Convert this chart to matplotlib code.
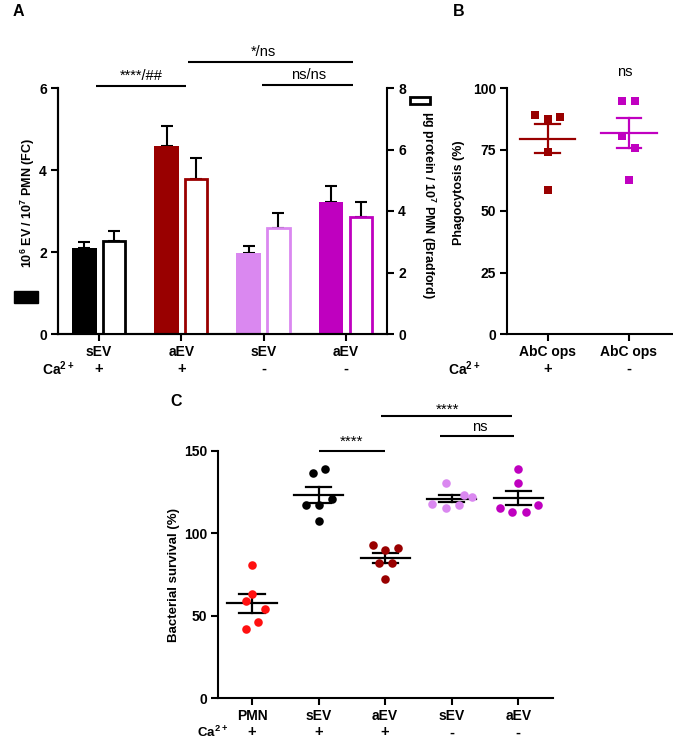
import numpy as np
import matplotlib
matplotlib.use("Agg")
import matplotlib.pyplot as plt
from matplotlib.patches import Rectangle

plt.rcParams['font.family'] = ['Liberation Sans', 'DejaVu Sans']
plt.rcParams['font.weight'] = 'bold'
plt.rcParams['mathtext.default'] = 'regular'
plt.rcParams['axes.linewidth'] = 1.5

# ---------------- data ----------------
groups_A = ['sEV', 'aEV', 'sEV', 'aEV']
ca_A = ['+', '+', '-', '-']
ev_fc_mean = [2.10, 4.59, 1.98, 3.22]
ev_fc_sem = [0.14, 0.49, 0.16, 0.39]
protein_mean = [3.03, 5.05, 3.44, 3.79]
protein_sem = [0.33, 0.66, 0.48, 0.51]
colors_A = ['#000000', '#990000', '#DA88F0', '#BF00BF']

groups_B = ['AbC ops', 'AbC ops']
ca_B = ['+', '-']
phago_plus = [89.2, 87.4, 88.2, 73.8, 58.4]
phago_minus = [94.7, 94.7, 80.4, 75.5, 62.7]
jitter_B = [[-0.16, 0.0, 0.15, 0.0, 0.0], [-0.09, 0.07, -0.08, 0.08, 0.0]]
colors_B = ['#990000', '#C000C0']

groups_C = ['PMN', 'sEV', 'aEV', 'sEV', 'aEV']
ca_C = ['+', '+', '+', '-', '-']
surv_pmn = [80.9, 63.3, 59.2, 54.0, 46.1, 42.0]
surv_sev_plus = [136.5, 138.9, 121.1, 117.3, 117.3, 107.7]
surv_aev_plus = [93.0, 90.0, 91.0, 81.9, 81.9, 72.2]
surv_sev_minus = [130.8, 123.1, 122.3, 117.9, 117.3, 115.2]
surv_aev_minus = [138.9, 130.4, 115.2, 113.2, 113.2, 117.3]
jitter_C = [[0, 0, -0.09, 0.19, 0.09, -0.09],
            [-0.09, 0.10, 0.20, -0.19, 0.01, 0.01],
            [-0.19, 0, 0.20, -0.09, 0.10, 0],
            [-0.09, 0.19, 0.30, -0.29, 0.11, -0.09],
            [0, 0, -0.28, -0.09, 0.11, 0.30]]
colors_C = ['#FF1010', '#000000', '#990000', '#DA88F0', '#BF00BF']

W, H = 673, 742
fig = plt.figure(figsize=(W / 100, H / 100), dpi=100)


def axrect(l, t, r, b):
    return [l / W, 1 - b / H, (r - l) / W, (b - t) / H]


def style(ax, right=False):
    ax.spines['top'].set_visible(False)
    if not right:
        ax.spines['right'].set_visible(False)
    ax.tick_params(direction='out', length=5, width=1.5, labelsize=10, pad=3)
    for lab in ax.get_xticklabels() + ax.get_yticklabels():
        lab.set_fontweight('bold')


# ---------------- Panel A ----------------
axA = fig.add_axes(axrect(58, 88, 387, 334))
axA2 = axA.twinx()
x = np.arange(len(groups_A))
bw = 0.30
off = 0.18
axA.bar(x - off, ev_fc_mean, bw, color=colors_A, edgecolor=colors_A, linewidth=0, zorder=2)
axA.errorbar(x - off, ev_fc_mean, yerr=[np.zeros(4), ev_fc_sem], fmt='none',
             ecolor='black', elinewidth=1.5, capsize=4, capthick=1.5, zorder=1)
axA2.bar(x + off, protein_mean, bw - 0.03, color='white', edgecolor=colors_A,
         linewidth=2.0, zorder=2)
axA2.errorbar(x + off, protein_mean, yerr=[np.zeros(4), protein_sem], fmt='none',
              ecolor='black', elinewidth=1.5, capsize=4, capthick=1.5, zorder=1)
axA.set_xlim(-0.5, 3.5)
axA.set_ylim(0, 6)
axA2.set_ylim(0, 8)
axA.set_yticks([0, 2, 4, 6])
axA2.set_yticks([0, 2, 4, 6, 8])
axA.set_xticks(x)
axA.set_xticklabels(groups_A)
style(axA)
axA2.spines['top'].set_visible(False)
axA2.tick_params(direction='out', length=5, width=1.5, labelsize=10, pad=3)
for lab in axA2.get_yticklabels():
    lab.set_fontweight('bold')
axA2.spines['right'].set_linewidth(1.5)

tA = axA.get_xaxis_transform()
axA.text(-0.5, -0.142, r'Ca$^{2+}$', transform=tA, ha='center', va='center', fontsize=10, fontweight='bold')
for xi, c in zip(x, ca_A):
    axA.text(xi, -0.142, c, transform=tA, ha='center', va='center', fontsize=10.5, fontweight='bold')


def sig(ax, x0, x1, y, ty, txt, tx=None, fs=10.5, weight='normal'):
    ax.plot([x0, x1], [y, y], color='black', lw=1.5, clip_on=False, solid_capstyle='butt')
    ax.text((x0 + x1) / 2 if tx is None else tx, ty, txt, ha='center', va='center',
            fontsize=fs, fontweight=weight, clip_on=False)


sig(axA, -0.04, 1.06, 6.05, 6.30, '****/##', fs=10.5)
sig(axA, 1.08, 3.09, 6.63, 6.88, '*/ns', tx=2.0)
sig(axA, 1.98, 3.09, 6.07, 6.32, 'ns/ns', tx=2.55)

fig.text(28 / W, 1 - 203 / H, r'10$^{6}$ EV / 10$^{7}$ PMN (FC)', rotation=90,
         ha='center', va='center', fontsize=9, fontweight='bold')
fig.patches.append(Rectangle((14 / W, 1 - 303 / H), 24 / W, 12 / H, transform=fig.transFigure,
                             facecolor='black', edgecolor='black', lw=1, figure=fig))
fig.text(428 / W, 1 - 205 / H, r'μg protein / 10$^{7}$ PMN (Bradford)', rotation=270,
         ha='center', va='center', fontsize=9, fontweight='bold')
fig.patches.append(Rectangle((410 / W, 1 - 104 / H), 20 / W, 7 / H, transform=fig.transFigure,
                             facecolor='white', edgecolor='black', lw=2, figure=fig))

fig.text(13 / W, 1 - 12 / H, 'A', fontsize=11.5, fontweight='bold', ha='left', va='center')
fig.text(453 / W, 1 - 12 / H, 'B', fontsize=11.5, fontweight='bold', ha='left', va='center')
fig.text(170 / W, 1 - 402 / H, 'C', fontsize=11.5, fontweight='bold', ha='left', va='center')

# ---------------- Panel B ----------------
axB = fig.add_axes(axrect(507, 88, 672, 334))
for i, (vals, col) in enumerate(zip([phago_plus, phago_minus], colors_B)):
    v = np.array(vals)
    m = v.mean()
    s = v.std(ddof=1) / np.sqrt(len(v))
    axB.scatter(i + np.array(jitter_B[i]), v, marker='s', s=34, color=col, zorder=3, linewidths=0)
    axB.plot([i - 0.34, i + 0.34], [m, m], color=col, lw=1.6, zorder=2)
    axB.plot([i - 0.15, i + 0.15], [m + s, m + s], color=col, lw=1.6, zorder=2)
    axB.plot([i - 0.15, i + 0.15], [m - s, m - s], color=col, lw=1.6, zorder=2)
    axB.plot([i, i], [m - s, m + s], color=col, lw=1.6, zorder=2)
axB.set_xlim(-0.5, 1.53)
axB.set_ylim(0, 100)
axB.set_yticks([0, 25, 50, 75, 100])
axB.set_xticks([0, 1])
axB.set_xticklabels(groups_B)
style(axB)
axB.text(0.95, 106.5, 'ns', ha='center', va='center', fontsize=10.5, fontweight='normal', clip_on=False)
tB = axB.get_xaxis_transform()
axB.text(-1.02, -0.142, r'Ca$^{2+}$', transform=tB, ha='center', va='center', fontsize=10, fontweight='bold')
for xi, c in zip([0, 1], ca_B):
    axB.text(xi, -0.142, c, transform=tB, ha='center', va='center', fontsize=10.5, fontweight='bold')
fig.text(459 / W, 1 - 193 / H, 'Phagocytosis (%)', rotation=90, ha='center', va='center',
         fontsize=9, fontweight='bold')

# ---------------- Panel C ----------------
axC = fig.add_axes(axrect(218, 451, 553, 698))
surv_all = [surv_pmn, surv_sev_plus, surv_aev_plus, surv_sev_minus, surv_aev_minus]
for i, (vals, col) in enumerate(zip(surv_all, colors_C)):
    v = np.array(vals)
    m = v.mean()
    s = v.std(ddof=1) / np.sqrt(len(v))
    axC.scatter(i + np.array(jitter_C[i]), v, marker='o', s=38, color=col, zorder=3, linewidths=0)
    axC.plot([i - 0.37, i + 0.37], [m, m], color='black', lw=1.6, zorder=2)
    axC.plot([i - 0.19, i + 0.19], [m + s, m + s], color='black', lw=1.6, zorder=2)
    axC.plot([i - 0.19, i + 0.19], [m - s, m - s], color='black', lw=1.6, zorder=2)
    axC.plot([i, i], [m - s, m + s], color='black', lw=1.6, zorder=2)
axC.set_xlim(-0.51, 4.52)
axC.set_ylim(0, 150)
axC.set_yticks([0, 50, 100, 150])
axC.set_xticks(range(5))
axC.set_xticklabels(groups_C)
style(axC)
sig(axC, 1.0, 2.0, 150, 155.4, '****', fs=11)
sig(axC, 1.94, 3.9, 171.2, 174.9, '****', tx=2.94, fs=11)
sig(axC, 2.82, 3.93, 159.1, 164.5, 'ns', tx=3.42)
tC = axC.get_xaxis_transform()
axC.text(-0.59, -0.139, r'Ca$^{2+}$', transform=tC, ha='center', va='center', fontsize=9.5, fontweight='bold')
for xi, c in zip(range(5), ca_C):
    axC.text(xi, -0.139, c, transform=tC, ha='center', va='center', fontsize=10.5, fontweight='bold')
fig.text(174 / W, 1 - 575 / H, 'Bacterial survival (%)', rotation=90, ha='center', va='center',
         fontsize=9.5, fontweight='bold')

fig.savefig('out.png', dpi=100)
